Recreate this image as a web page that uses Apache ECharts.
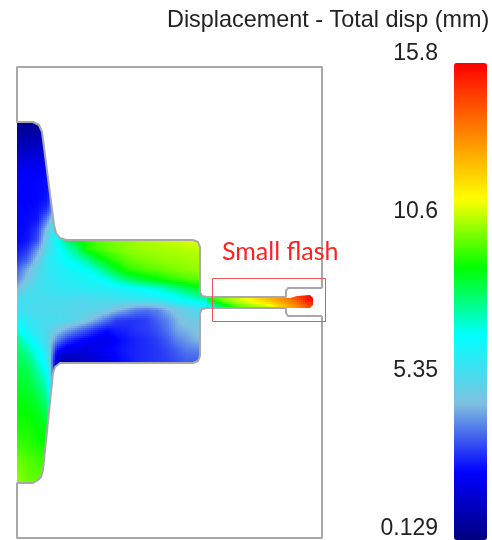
<!DOCTYPE html>
<html>
<head>
<meta charset="utf-8">
<style>html,body{margin:0;padding:0;background:#fff}#c{width:492px;height:540px}</style>
<script src="https://cdn.jsdelivr.net/npm/echarts@6/dist/echarts.min.js"></script>
</head>
<body>
<div id="c"></div>
<script>
const n = null;
const legendTicks = [0.129, 5.35, 10.6, 15.8];
const legendMin = 0.129;
const legendMax = 15.8;
const palette = ['#00007f','#0000ff','#80c0e0','#00ffff','#00ff00','#ffff00','#ff8000','#ff0000'];

const bodyX = [17,27,37,47,57,67,77,87,97,107,117,127,137,147,157,167,177,187,197,207];
const bodyY = [120,130,140,150,160,170,180,190,200,210,220,230,240,250,260,270,280,290,300,310,320,330,340,350,360,370,380,390,400,410,420,430,440,450,460,470,480,490];
const bodyDisp = [
[.5,.5,.6,.7,.8],
[.6,.6,.7,.8,.9],
[1,1,1.1,1.2,1.3],
[1.3,1.4,1.5,1.6,1.6],
[1.7,1.8,1.9,2,2.1],
[2.1,2.2,2.3,2.4,2.6],
[2.3,2.35,2.4,2.5,2.9],
[2.35,2.35,2.4,2.5,3.4],
[2.35,2.35,2.4,2.6,4.2],
[2.4,2.4,2.5,3,5.2],
[2.4,2.45,2.6,3.9,6],
[2.4,2.5,3,4.8,6.5,7.5],
[2.4,2.6,3.2,5.3,6.8,8.3,8.9,9.4,9.8,10,10.2,10.3,10.5,10.6,10.7,10.8,10.9,11,11.1,11.1],
[2.6,3,4.1,5.6,6.5,7.3,8.1,9.3,9.6,9.9,10.1,10.3,10.4,10.5,10.5,10.6,10.6,10.7,10.7,10.7],
[3,3.5,4.8,6,6.4,6.9,7.2,7.8,8.7,9.2,9.6,9.9,10.1,10.2,10.3,10.4,10.4,10.5,10.5,10.5],
[3.5,4.4,5.3,6,6.2,6.4,6.7,6.9,7.4,8.2,8.9,9.4,9.6,9.8,9.9,10.1,10.2,10.3,10.4,10.4],
[3.9,4.8,5.5,5.9,6.1,6.2,6.3,6.5,6.6,7,7.6,8.1,8.5,8.8,9,9.3,9.5,9.7,9.9,9.9],
[4.7,5.4,5.7,5.8,5.9,6,6,6.1,6.1,6.2,6.3,6.4,6.6,6.8,7,7.4,7.8,8.2,8.6,8.9],
[5.6,5.7,5.6,5.6,5.6,5.6,5.5,5.5,5.6,5.6,5.7,5.8,5.9,6,6.1,6.4,6.7,7,7.3,7.6],
[5.8,5.6,5.5,5.5,5.4,5.4,5.3,5.3,5.2,5,4.6,4.2,3.8,3.7,3.9,4.4,4.9,5.2,5.5,6],
[6.5,6,5.7,5.6,5.6,5.5,5.3,4.9,4.3,3.7,3.1,3,3,3.1,3.5,3.9,4.5,4.9,5,5.2],
[7,6.3,5.8,5.4,4.9,4.3,3.8,3.3,2.8,2.5,2.7,2.8,3,3.1,3.3,3.7,4.3,4.5,4.7,4.8],
[7.7,7,6.2,5.4,3.9,3,2.6,2.3,2.1,2,2.4,2.6,2.8,2.9,3.1,3.4,3.9,4.2,4.5,4.5],
[8.2,7.6,6.8,5.7,2.6,2,1.9,1.8,2,2.3,2.5,2.7,2.8,2.9,3,3.2,3.5,3.8,3.9,3.9],
[8.3,8.1,7.2,6.2,1.4,1.1,1.3,1.5,1.8,2,2.4,2.6,2.8,2.9,3,3.1,3.3,3.5,3.5,3.5],
[8.5,8.4,7.6,6.7,1.2,1,1.2,1.4,1.7,1.9,2.3,2.5,2.7,2.8,2.9,3,3.2,3.4,3.5,3.5],
[8.7,8.6,8,7.1,2],
[8.8,8.7,8.3,7.4,2.5],
[9,8.9,8.6,7.8,3],
[9.1,9,8.8,8.2,4],
[9.2,9.2,9,8.5,5],
[9.3,9.3,9.1,8.8],
[9.5,9.4,9.2,9],
[9.7,9.6,9.4,9.3],
[10,9.8,9.6,9.5],
[10.2,9.9,9.8,9.7],
[10.3,10,9.9,9.8],
[10.4,10.1,10,9.9]
];

const runnerX = [207,217,227,237,247,257,267,277,287,297,307,317];
const runnerY = [294,298,302,306,310];
const runnerDisp = [
[9.3,9.9,10.6,11,11.4,12,12.7,13.2,13.8,14.6,15.6,15.8],
[9.2,9.8,10.5,10.9,11.3,12,12.6,13.1,13.7,14.5,15.5,15.8],
[8,9.4,10.2,10.7,11.1,11.6,12,12.7,13.3,14,15.2,15.5],
[6.8,8,9,9.8,10.3,10.6,10.9,11.9,12.7,13.4,14.4,14.8],
[6.5,7.8,8.8,9.6,10.2,10.5,10.8,11.8,12.6,13.3,14.3,14.7]
];

const filledRegion = [[17,122],[33,122],[39,125],[42,132],[54,225],[56,233],[60,238],[66,240],[193,240],[198,242],[200,247],[200,292],[202,296],[207,298],[286,298],[290,298],[297,296],[310,295],[313,298],[313,305],[310,308],[290,308],[207,308],[202,309],[200,313],[200,356],[198,361],[193,363],[60,363],[55,367],[53,373],[43,470],[41,477],[38,480],[33,483],[17,483]];
const upperOutline = [[322,288],[322,67],[17,67],[17,122],[33,122],[39,125],[42,132],[54,225],[56,233],[60,238],[66,240],[193,240],[198,242],[200,247],[200,292],[202,296],[207,297],[286,297],[286,291],[288,288],[322,288]];
const lowerOutline = [[322,316],[288,316],[286,313],[286,308],[207,308],[202,309],[200,313],[200,356],[198,361],[193,363],[60,363],[55,367],[53,373],[43,470],[41,477],[38,480],[33,483],[17,483],[17,538],[322,538],[322,316]];
const flashBox = [[212.5,278.5],[325.5,278.5],[325.5,321.5],[212.5,321.5],[212.5,278.5]];

function hexRgb(h){return [1,3,5].map(i=>parseInt(h.substr(i,2),16));}
const paletteRgb = palette.map(hexRgb);
function colorOf(v){
  let t=(v-legendMin)/(legendMax-legendMin)*(palette.length-1);
  t=Math.max(0,Math.min(palette.length-1,t));
  const i=Math.min(palette.length-2,Math.floor(t)),f=t-i;
  const a=paletteRgb[i],b=paletteRgb[i+1];
  return 'rgb('+[0,1,2].map(k=>Math.round(a[k]+(b[k]-a[k])*f)).join(',')+')';
}
function meshCells(xs,ys,vals){
  const out=[];
  for(let r=0;r<ys.length-1;r++)for(let c=0;c<xs.length-1;c++){
    const a=vals[r][c],b=vals[r][c+1],d=vals[r+1][c],e=vals[r+1][c+1];
    if(a==n||b==n||d==n||e==n)continue;
    out.push([xs[c],ys[r],xs[c+1],ys[r+1],a,b,d,e]);
  }
  return out;
}
function shadeCell(params,api){
  const x0=api.value(0),y0=api.value(1),x1=api.value(2),y1=api.value(3);
  const a=api.value(4),b=api.value(5),d=api.value(6),e=api.value(7);
  const p0=api.coord([x0,y0]),p1=api.coord([x1,y1]);
  const kids=[],s=2;
  for(let py=p0[1];py<p1[1];py+=s)for(let px=p0[0];px<p1[0];px+=s){
    const u=(px+s/2-p0[0])/(p1[0]-p0[0]),w=(py+s/2-p0[1])/(p1[1]-p0[1]);
    const v=a*(1-u)*(1-w)+b*u*(1-w)+d*(1-u)*w+e*u*w;
    kids.push({type:'rect',shape:{x:px,y:py,width:s,height:s},style:{fill:colorOf(v)}});
  }
  return {type:'group',clipPath:{type:'polygon',shape:{points:filledRegion.map(q=>api.coord(q))}},children:kids};
}
const lineOf=(data,color,width)=>({type:'line',xAxisIndex:0,yAxisIndex:0,data,symbol:'none',silent:true,clip:false,animation:false,z:5,lineStyle:{color,width}});
const chart=echarts.init(document.getElementById('c'),null,{renderer:'canvas'});
chart.setOption({
  backgroundColor:'#fff',animation:false,
  title:[
    {text:'Displacement - Total disp (mm)',left:167,top:9,padding:0,textStyle:{fontFamily:'Liberation Sans',fontSize:23.4,fontWeight:'normal',color:'#222'}},
    {text:'Small flash',left:222,top:239,padding:0,textStyle:{fontFamily:'Lato',fontSize:25,fontWeight:'normal',color:'#ff2020'}}
  ],
  grid:[
    {left:0,top:0,width:492,height:540,show:false},
    {left:450,top:54,width:10,height:477,show:false}
  ],
  xAxis:[
    {type:'value',gridIndex:0,min:0,max:492,show:false},
    {type:'value',gridIndex:1,min:0,max:1,show:false}
  ],
  yAxis:[
    {type:'value',gridIndex:0,min:0,max:540,inverse:true,show:false},
    {type:'value',gridIndex:1,min:legendMin,max:legendMax,position:'left',
     axisLine:{show:false},axisTick:{show:false},splitLine:{show:false},
     axisLabel:{customValues:legendTicks,margin:12,fontFamily:'Liberation Sans',fontSize:23,color:'#222'}}
  ],
  visualMap:{type:'continuous',seriesIndex:0,dimension:4,min:legendMin,max:legendMax,left:454,top:63,itemWidth:33,itemHeight:477,padding:0,calculable:false,showLabel:false,text:['',''],inRange:{color:palette}},
  series:[
    {type:'custom',xAxisIndex:0,yAxisIndex:0,coordinateSystem:'cartesian2d',silent:true,animation:false,clip:false,z:2,encode:{x:0,y:1},renderItem:shadeCell,data:meshCells(bodyX,bodyY,bodyDisp).concat(meshCells(runnerX,runnerY,runnerDisp))},
    lineOf(upperOutline,'#a8a8a8',2),
    lineOf(lowerOutline,'#a8a8a8',2),
    Object.assign(lineOf(flashBox,'#ee5555',1),{z:6})
  ]
});
</script>
</body>
</html>
